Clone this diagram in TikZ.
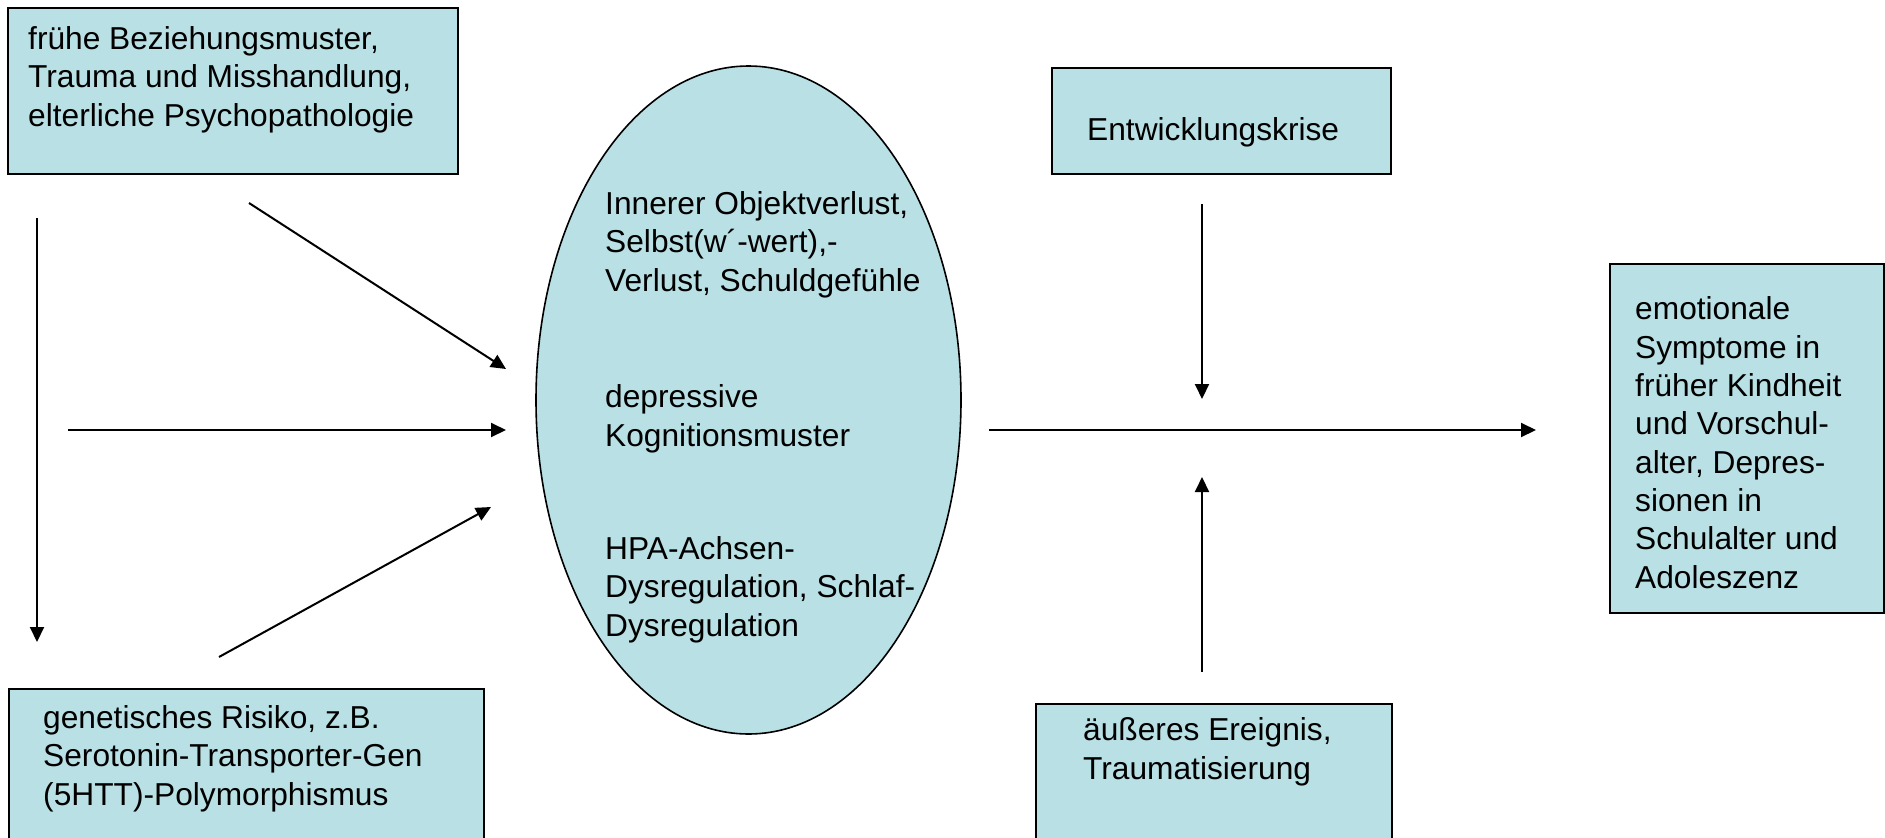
\documentclass[tikz,border=0pt]{standalone}
\usepackage{fontspec}
\setmainfont{Liberation Sans}
\usetikzlibrary{arrows.meta,shapes.geometric}
\definecolor{boxfill}{RGB}{185,224,228}
\begin{document}
\begin{tikzpicture}[x=1pt,y=-1pt,
  box/.style={draw=black, line width=1.6pt, fill=boxfill, rectangle, inner sep=0pt, anchor=north west},
  txt/.style={anchor=base west, align=left, inner sep=0pt, font=\fontsize{31.7}{38.3}\selectfont},
  arr/.style={line width=2pt, -{Triangle[length=15pt,width=14pt]}}]
\useasboundingbox (0,0) rectangle (1885,838);
% boxes
\node[box, minimum width=450pt, minimum height=166pt] (b1) at (7,7) {};
\node[box, minimum width=339pt, minimum height=106pt] (b2) at (1051,67) {};
\node[box, minimum width=475pt, minimum height=152pt] (b3) at (8,688) {};
\node[box, minimum width=274pt, minimum height=349pt] (b4) at (1609,263) {};
\node[box, minimum width=356pt, minimum height=137pt] (b5) at (1035,703) {};
\node[draw=black, line width=1.6pt, fill=boxfill, ellipse, inner sep=0pt,
      minimum width=425pt, minimum height=668pt] (ell) at (748.5,400) {};
% texts (anchored at the baseline of the last line)
\node[txt] (t1) at (28,126) {frühe Beziehungsmuster,\\Trauma und Misshandlung,\\elterliche Psychopathologie};
\node[txt] (t2) at (1087,140) {Entwicklungskrise};
\node[txt] (t3) at (43,805) {genetisches Risiko, z.B.\\Serotonin-Transporter-Gen\\(5HTT)-Polymorphismus};
\node[txt] (t4) at (1635,588) {emotionale\\Symptome in\\früher Kindheit\\und Vorschul-\\alter, Depres-\\sionen in\\Schulalter und\\Adoleszenz};
\node[txt] (t5) at (1083,779) {äußeres Ereignis,\\Traumatisierung};
\node[txt] (e1) at (605,291) {Innerer Objektverlust,\\Selbst(w´-wert),-\\Verlust, Schuldgefühle};
\node[txt] (e2) at (605,446) {depressive\\Kognitionsmuster};
\node[txt] (e3) at (605,636) {HPA-Achsen-\\Dysregulation, Schlaf-\\Dysregulation};
% arrow endpoints
\coordinate (a1s) at (37,218);   \coordinate (a1e) at (37,642);
\coordinate (a2s) at (249,203);  \coordinate (a2e) at (506,369);
\coordinate (a3s) at (68,430);   \coordinate (a3e) at (506,430);
\coordinate (a4s) at (219,657);  \coordinate (a4e) at (491,507);
\coordinate (a5s) at (989,430);  \coordinate (a5e) at (1536,430);
\coordinate (a6s) at (1202,204); \coordinate (a6e) at (1202,399);
\coordinate (a7s) at (1202,672); \coordinate (a7e) at (1202,477);
\draw[arr] (a1s) -- (a1e);
\draw[arr] (a2s) -- (a2e);
\draw[arr] (a3s) -- (a3e);
\draw[arr] (a4s) -- (a4e);
\draw[arr] (a5s) -- (a5e);
\draw[arr] (a6s) -- (a6e);
\draw[arr] (a7s) -- (a7e);
\end{tikzpicture}
\end{document}
